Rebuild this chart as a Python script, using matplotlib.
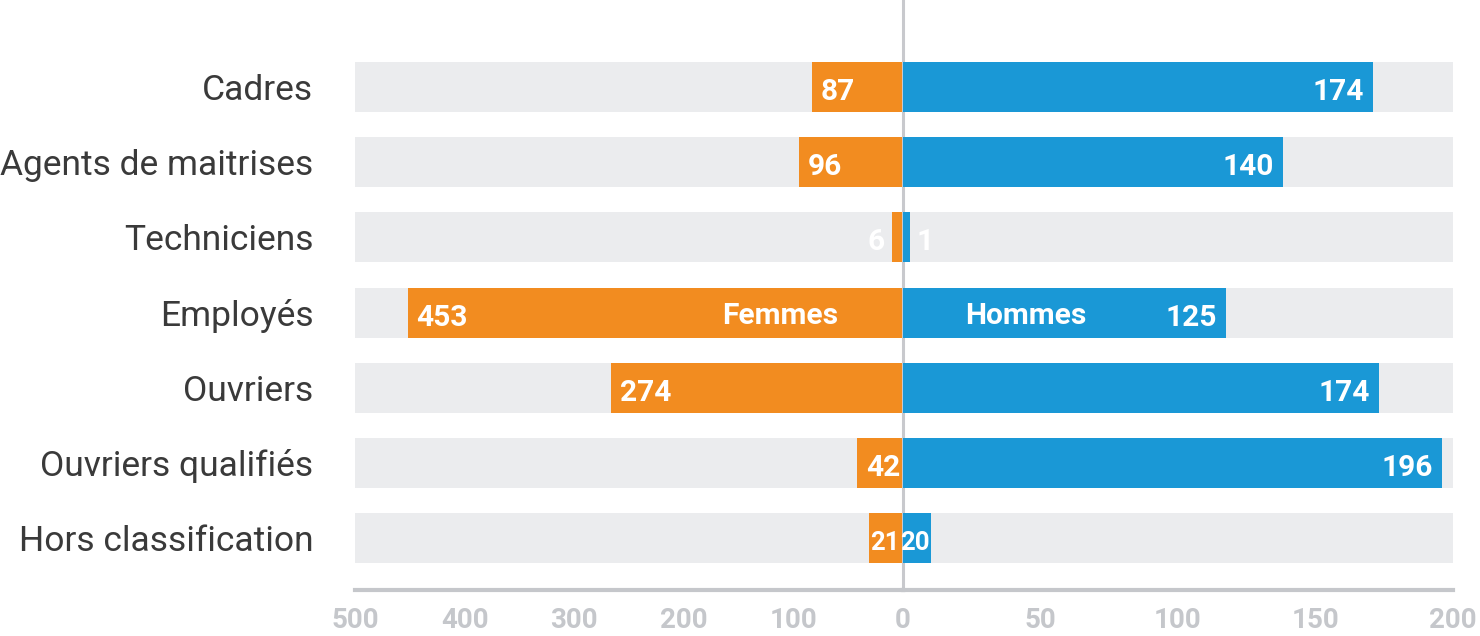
import matplotlib
matplotlib.use('Agg')
import matplotlib.pyplot as plt

categories = ['Cadres', 'Agents de maitrises', 'Techniciens', 'Employés',
              'Ouvriers', 'Ouvriers qualifiés', 'Hors classification']

# valeurs affichées
femmes = [87, 96, 6, 453, 274, 42, 21]
hommes = [174, 140, 1, 125, 174, 196, 20]

# longueur des barres telle que dessinée dans l'original
femmes_bars = [83, 95, 10, 452, 266, 42, 31]
hommes_bars = [171, 138, 2.5, 117.5, 173, 196, 10]

femmes_ticks = [500, 400, 300, 200, 100]
hommes_ticks = [0, 50, 100, 150, 200]

ORANGE = '#F28C20'
BLUE = '#1A98D6'
BG = '#EBECEE'
AXIS = '#C5C7CB'
TEXT = '#3A3A3A'

plt.rcParams['font.family'] = ['Roboto', 'DejaVu Sans']


def value_label(ax, y, end, label, direction):
    # direction: +1 si l'intérieur de la barre est vers la droite (femmes), -1 sinon
    x0 = ax.transData.transform((0, y))[0]
    x1 = ax.transData.transform((end, y))[0]
    w = abs(x1 - x0)
    size = 21.5
    if w > 45:
        dx, inside = 9, True
    elif w > 20:
        dx, inside, size = 1, True, 18.5
    else:
        dx, inside = 7, False
    if not inside:
        direction = -direction
    ha = 'left' if direction > 0 else 'right'
    ax.annotate(str(label), (end, y), xytext=(direction * dx, -5),
                textcoords='offset pixels', ha=ha, va='center',
                color='white', fontsize=size, fontweight='bold', zorder=5)


def main():
    fig = plt.figure(figsize=(14.8, 6.36), dpi=100)
    bottom = 46 / 636
    height = 590 / 636
    ax_f = fig.add_axes([355 / 1480, bottom, 548 / 1480, height])
    ax_h = fig.add_axes([903 / 1480, bottom, 550 / 1480, height])

    n = len(categories)
    ys = list(range(n))
    bh = 0.665

    for ax, lim in ((ax_f, 500), (ax_h, 200)):
        ax.barh(ys, [lim] * n, height=bh, color=BG, zorder=1)
        ax.set_ylim(6.69, -1.157)
        for s in ('top', 'left', 'right'):
            ax.spines[s].set_visible(False)
        ax.spines['bottom'].set_color(AXIS)
        ax.spines['bottom'].set_linewidth(3)
        ax.tick_params(axis='x', length=0, pad=12, labelsize=20, labelcolor=AXIS)

    ax_f.barh(ys, femmes_bars, height=bh, color=ORANGE, zorder=3)
    ax_h.barh(ys, hommes_bars, height=bh, color=BLUE, zorder=3)

    ax_f.set_xlim(500, 0)
    ax_h.set_xlim(0, 200)
    ax_f.set_xticks(femmes_ticks)
    ax_h.set_xticks(hommes_ticks)
    for ax in (ax_f, ax_h):
        for t in ax.get_xticklabels():
            t.set_fontweight('bold')

    ax_f.set_yticks(ys)
    ax_f.set_yticklabels(categories, fontsize=25.5, color=TEXT)
    ax_f.tick_params(axis='y', length=0, pad=30)
    ax_h.set_yticks([])

    ax_h.axvline(0, color='#C8C9CD', lw=2.2, zorder=2, clip_on=False)

    fig.canvas.draw()
    for i in ys:
        value_label(ax_f, i, femmes_bars[i], femmes[i], +1)
        value_label(ax_h, i, hommes_bars[i], hommes[i], -1)

    row = categories.index('Employés')
    ax_f.annotate('Femmes', (0, row), xytext=(-65, -3), textcoords='offset pixels',
                  ha='right', va='center', color='white', fontsize=21.5,
                  fontweight='bold', zorder=5)
    ax_h.annotate('Hommes', (0, row), xytext=(62, -3), textcoords='offset pixels',
                  ha='left', va='center', color='white', fontsize=21.5,
                  fontweight='bold', zorder=5)

    fig.savefig('out.png', dpi=100)


if __name__ == '__main__':
    main()
